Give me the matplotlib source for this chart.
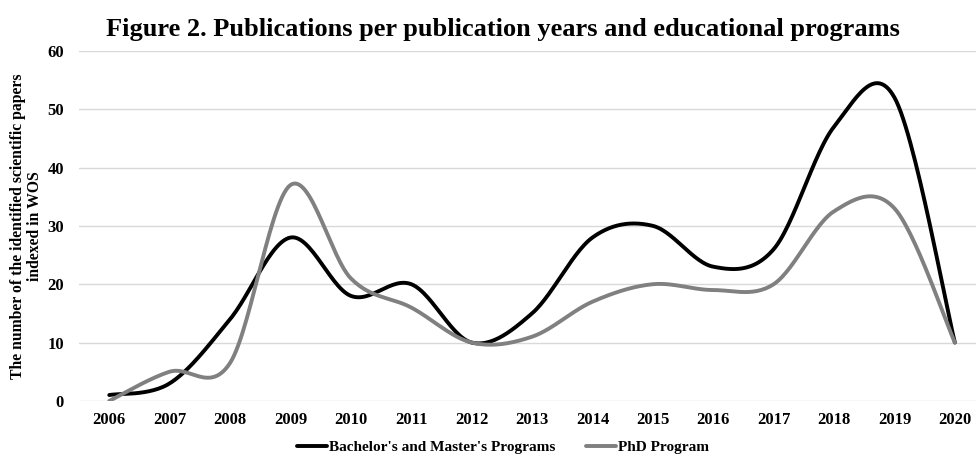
import numpy as np
from matplotlib import pyplot as plt

years = ['2006', '2007', '2008', '2009', '2010', '2011', '2012', '2013',
         '2014', '2015', '2016', '2017', '2018', '2019', '2020']
bachelor_master = [1, 3, 14, 28, 18, 20, 10, 15, 28, 30, 23, 26, 47, 52, 10]
phd = [0, 5, 6.5, 37, 21, 16, 10, 11, 17, 20, 19, 20, 32.5, 33, 10]


def smooth(x, y, n=30):
    # Excel-like smoothed line: cubic bezier with catmull-rom control points
    x = np.asarray(x, float)
    y = np.asarray(y, float)
    px = np.concatenate([[x[0]], x, [x[-1]]])
    py = np.concatenate([[y[0]], y, [y[-1]]])
    xs, ys = [], []
    t = np.linspace(0, 1, n)
    for i in range(1, len(px) - 2):
        p0 = np.array([px[i], py[i]])
        p3 = np.array([px[i + 1], py[i + 1]])
        c1 = p0 + (np.array([px[i + 1], py[i + 1]]) - np.array([px[i - 1], py[i - 1]])) / 6
        c2 = p3 - (np.array([px[i + 2], py[i + 2]]) - np.array([px[i], py[i]])) / 6
        pts = ((1 - t) ** 3)[:, None] * p0 + (3 * (1 - t) ** 2 * t)[:, None] * c1 \
            + (3 * (1 - t) * t ** 2)[:, None] * c2 + (t ** 3)[:, None] * p3
        xs.extend(pts[:, 0])
        ys.extend(pts[:, 1])
    return np.array(xs), np.array(ys)


plt.rcParams['font.family'] = ['Liberation Serif', 'DejaVu Serif']
plt.rcParams['font.weight'] = 'bold'

fig = plt.figure(figsize=(9.76, 4.54), dpi=100)
ax = fig.add_axes([0.081, 0.117, 0.919, 0.771])

pos = np.arange(len(years))
bx, by = smooth(pos, bachelor_master)
gx, gy = smooth(pos, phd)
ax.plot(bx, by, color='black', lw=2.8, label="Bachelor's and Master's Programs",
        solid_capstyle='round', zorder=3)
ax.plot(gx, gy, color='#808080', lw=2.8, label='PhD Program',
        solid_capstyle='round', zorder=3)

ax.set_xlim(-0.5, 14.35)
ax.set_ylim(0, 60)
ax.set_yticks(range(0, 61, 10))
ax.set_xticks(pos)
ax.set_xticklabels(years)
ax.grid(axis='y', color='#d9d9d9', lw=1)
ax.set_axisbelow(True)
for s in ax.spines.values():
    s.set_visible(False)
ax.tick_params(length=0, labelsize=12)
ax.tick_params(axis='y', pad=11)
ax.tick_params(axis='x', pad=8)

ax.set_ylabel('The number of the identified scientific papers\nindexed in WOS',
              fontsize=11.3, fontweight='bold', labelpad=3, linespacing=1.1)

fig.text(0.515, 0.934, 'Figure 2. Publications per publication years and educational programs',
         fontsize=19, fontweight='bold', ha='center', va='center')

fig.legend(loc='lower center', ncol=2, frameon=False, bbox_to_anchor=(0.515, -0.03),
           handlelength=2.0, handletextpad=0.1, columnspacing=2.0,
           prop={'weight': 'bold', 'size': 11})

plt.savefig('out.png', dpi=100)
